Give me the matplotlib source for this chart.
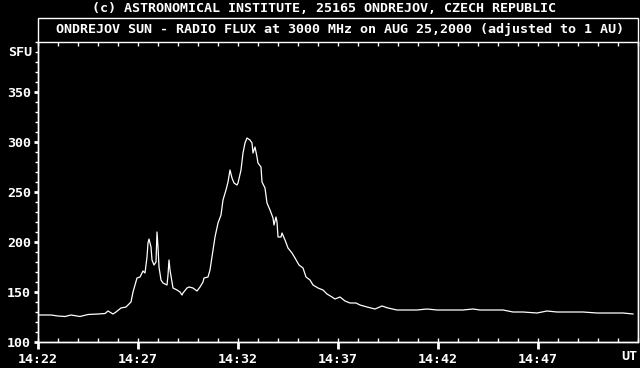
import matplotlib
matplotlib.use("Agg")
import matplotlib.pyplot as plt
import matplotlib.patches as patches
from matplotlib.ticker import MultipleLocator, FixedLocator

# minutes after 14:22 UT
minutes = [0.00, 0.65, 1.00, 1.35, 1.65, 2.10, 2.50, 3.00, 3.35, 3.50,
           3.75, 3.90, 4.15, 4.40, 4.65, 4.75, 4.95, 5.10, 5.25, 5.35,
           5.45, 5.50, 5.55, 5.65, 5.70, 5.80, 5.90, 5.95, 6.00, 6.05,
           6.15, 6.25, 6.45, 6.50, 6.55, 6.60, 6.70, 6.75, 6.95, 7.10,
           7.20, 7.25, 7.45, 7.55, 7.75, 7.95, 8.10, 8.25, 8.30, 8.50,
           8.60, 8.75, 8.85, 9.00, 9.15, 9.25, 9.40, 9.50, 9.60, 9.70,
           9.80, 9.95, 10.00, 10.15, 10.25, 10.35, 10.45, 10.60, 10.70, 10.75,
           10.85, 10.95, 11.00, 11.15, 11.20, 11.35, 11.45, 11.60, 11.75, 11.80,
           11.90, 11.95, 12.00, 12.15, 12.20, 12.35, 12.50, 12.70, 12.85, 13.05,
           13.25, 13.40, 13.60, 13.75, 14.00, 14.25, 14.45, 14.70, 14.85, 15.10,
           15.35, 15.60, 15.90, 16.10, 16.45, 16.85, 17.20, 17.50, 17.95, 18.45,
           18.95, 19.45, 19.95, 20.60, 21.25, 21.75, 22.10, 22.60, 23.25, 23.75,
           24.25, 24.95, 25.45, 25.95, 26.60, 27.25, 27.95, 28.60, 29.25, 29.75]
flux = [127, 127, 126, 125.5, 127, 125.5, 127.5, 128, 128.5, 131,
        128, 130, 134, 135, 140, 150, 164, 165, 171, 169,
        185, 199, 203, 195, 182, 177, 180, 210, 195, 175,
        162, 159, 157, 167, 182, 172, 160, 154, 152, 150,
        147, 149, 154, 155, 154, 151, 155, 160, 164, 165,
        172, 192, 205, 219, 227, 242, 252, 260, 272, 264,
        259, 257, 259, 272, 289, 299, 304, 302, 299, 289,
        295, 285, 279, 275, 260, 254, 239, 232, 224, 217,
        225, 220, 205, 205, 209, 202, 194, 189, 184, 177,
        174, 165, 162, 157, 154, 152, 148, 145, 143, 145,
        141, 139, 139, 137, 135, 133, 136, 134, 132, 132,
        132, 133, 132, 132, 132, 133, 132, 132, 132, 130,
        130, 129, 131, 130, 130, 130, 129, 129, 129, 128]

time_ticks = [0, 5, 10, 15, 20, 25]
time_labels = ["14:22", "14:27", "14:32", "14:37", "14:42", "14:47"]
sfu_ticks = [100, 150, 200, 250, 300, 350]

title_top = "(c) ASTRONOMICAL INSTITUTE, 25165 ONDREJOV, CZECH REPUBLIC"
title_box = "ONDREJOV SUN - RADIO FLUX at 3000 MHz on AUG 25,2000 (adjusted to 1 AU)"

W, H = 640, 368
font = dict(family="DejaVu Sans Mono", size=9.6, weight="bold", color="white")

fig = plt.figure(figsize=(W / 100, H / 100), dpi=100, facecolor="black")
ax = fig.add_axes([38 / W, 26 / H, 600 / W, 300 / H], facecolor="black")

ax.plot(minutes, flux, color="white", lw=0.9)
ax.set_xlim(0, 30)
ax.set_ylim(100, 400)

for s in ax.spines.values():
    s.set_color("white")
    s.set_linewidth(1)

# x axis: 5-min labels, minute ticks top and bottom
ax.xaxis.set_major_locator(FixedLocator(time_ticks))
ax.set_xticklabels(time_labels, fontdict=font)
ax.xaxis.set_minor_locator(MultipleLocator(1))
ax.xaxis.remove_overlapping_locs = False
ax.tick_params(axis="x", which="major", direction="out", length=5, width=2,
               color="white", pad=3)
ax.tick_params(axis="x", which="minor", direction="in", length=3, width=1,
               color="white", top=True)

# y axis
ax.yaxis.set_major_locator(FixedLocator(sfu_ticks))
ax.set_yticklabels([str(v) for v in sfu_ticks], fontdict=font)
ax.yaxis.set_minor_locator(MultipleLocator(10))
ax.tick_params(axis="y", which="major", direction="out", length=3, width=2,
               color="white", pad=2)
ax.tick_params(axis="y", which="minor", direction="out", length=2, width=1,
               color="white")

# frame around the title strip
fig.add_artist(patches.Rectangle((38 / W, 26 / H), 600 / W, 324 / H,
                                 transform=fig.transFigure, fill=False,
                                 edgecolor="white", lw=1))

fig.text(324 / W, 1 - 8 / H, title_top, ha="center", va="center", **font)
fig.text(340 / W, 1 - 30 / H, title_box, ha="center", va="center", **font)
fig.text(32 / W, 1 - 52 / H, "SFU", ha="right", va="center", **font)
fig.text(637 / W, 1 - 356 / H, "UT", ha="right", va="center", **font)

fig.savefig("out.png", dpi=100, facecolor="black")
